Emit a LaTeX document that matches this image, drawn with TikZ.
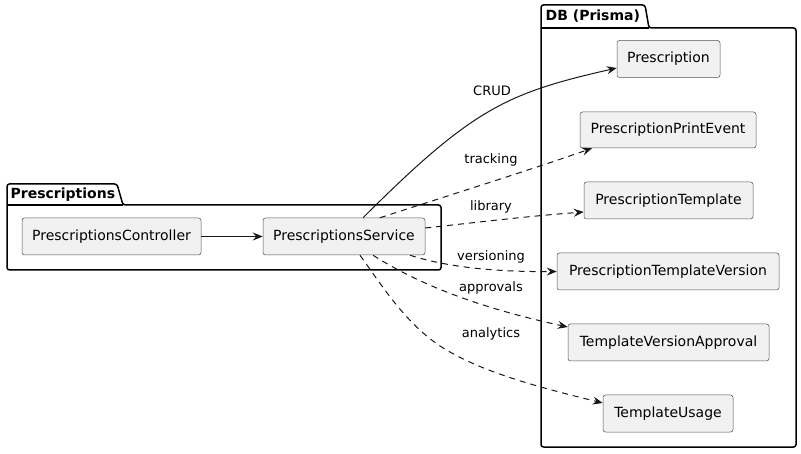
\documentclass[tikz,border=0pt]{standalone}
\usepackage{fontspec}
\setmainfont{DejaVu Sans}
\usetikzlibrary{arrows.meta}
\definecolor{nodefill}{HTML}{F1F1F1}
\definecolor{edgecol}{HTML}{181818}
\tikzset{
  entity/.style={draw=edgecol!75, line width=0.5pt, fill=nodefill, rounded corners=2.5pt,
    inner sep=0pt, minimum height=37pt, font=\fontsize{14}{16}\selectfont, text=black},
  pkgline/.style={draw=black, line width=1.5pt, line join=round},
  pkgtitle/.style={font=\bfseries\fontsize{14}{16}\selectfont, anchor=west, inner sep=0pt},
  elabel/.style={font=\fontsize{13}{15}\selectfont, inner sep=0pt},
  conn/.style={draw=edgecol, line width=1pt, -{Stealth[length=10pt,width=8pt,inset=3.5pt]}},
  dconn/.style={conn, dash pattern=on 6pt off 5pt}
}
\begin{document}
\begin{tikzpicture}[x=1pt, y=-1pt]
\useasboundingbox (0,0) rectangle (801,454);
% packages
\draw[pkgline, rounded corners=2.5pt] (7,205) -- (7,184) -- (117,184) -- (123,205) -- (441,205) -- (441,270) -- (7,270) -- cycle;
\draw[pkgline] (7,205) -- (123,205);
\node[pkgtitle] (ptitle) at (10.5,195) {Prescriptions};
\draw[pkgline, rounded corners=2.5pt] (541,28) -- (541,5) -- (645,5) -- (649,28) -- (796,28) -- (796,447) -- (541,447) -- cycle;
\draw[pkgline] (541,28) -- (649,28);
\node[pkgtitle] (dtitle) at (545.5,16.5) {DB (Prisma)};
% entities
\node[entity, minimum width=179pt] (ctrl) at (111.5,236.5) {PrescriptionsController};
\node[entity, minimum width=162pt] (svc) at (344,236.5) {PrescriptionsService};
\node[entity, minimum width=103pt] (pres) at (668.5,59) {Prescription};
\node[entity, minimum width=176pt, minimum height=36pt] (pe) at (668,130) {PrescriptionPrintEvent};
\node[entity, minimum width=169pt] (tpl) at (668.5,200.5) {PrescriptionTemplate};
\node[entity, minimum width=222pt] (tv) at (668,271.5) {PrescriptionTemplateVersion};
\node[entity, minimum width=201pt] (tva) at (668.5,342.5) {TemplateVersionApproval};
\node[entity, minimum width=130pt] (tu) at (668,413.5) {TemplateUsage};
% connectors
\draw[conn] (ctrl) -- (svc);
\draw[conn] ([xshift=19pt]svc.north) .. controls (473,108) and (507,93) .. ([yshift=-9pt]pres.west);
\draw[dconn] ([xshift=36pt]svc.north) .. controls (450,195) and (530,170) .. ([xshift=-76pt]pe.south);
\draw[dconn] ([yshift=8.5pt]svc.east) .. controls (480,222) and (530,216) .. ([yshift=-11.5pt]tpl.west);
\draw[dconn] ([xshift=66pt]svc.south) .. controls (450,268) and (500,272) .. (tv.west);
\draw[dconn] ([xshift=29pt]svc.south) .. controls (420,285) and (480,308) .. ([yshift=15.5pt]tva.west);
\draw[dconn] ([xshift=16pt]svc.south) .. controls (385,290) and (410,330) .. (450,352)
  .. controls (490,375) and (550,390) .. ([yshift=10.5pt]tu.west);
% labels
\node[elabel] (lcrud) at (492,90.5) {CRUD};
\node[elabel] (ltrack) at (491,159.5) {tracking};
\node[elabel] (llib) at (491,207) {library};
\node[elabel] (lver) at (491,257) {versioning};
\node[elabel] (lapp) at (491,288) {approvals};
\node[elabel] (lana) at (491,334) {analytics};
\end{tikzpicture}
\end{document}
